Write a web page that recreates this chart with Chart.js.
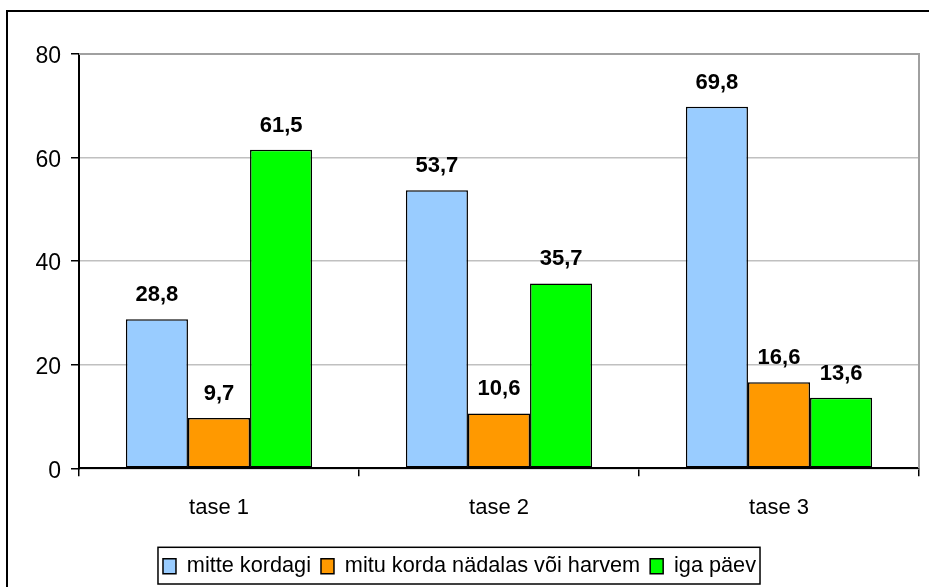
<!DOCTYPE html>
<html>
<head>
<meta charset="utf-8">
<script src="https://cdn.jsdelivr.net/npm/chart.js@4/dist/chart.umd.min.js"></script>
<style>
    body { margin: 0; background: #fff; overflow: hidden; }
    #wrap { position: relative; width: 929px; height: 587px; }
    #frame { position: absolute; left: 6px; top: 10px; width: 940px; height: 600px; border: 2px solid #000; box-sizing: border-box; pointer-events: none; }
</style>
</head>
<body>
<div id="wrap">
    <canvas id="chart" width="929" height="587"></canvas>
    <div id="frame"></div>
</div>
<script>
// ============================================================================
// DATA
// ============================================================================
const kategooriad = ["tase 1", "tase 2", "tase 3"];
const mitteKordagi = [28.8, 53.7, 69.8];
const mituKorda = [9.7, 10.6, 16.6];
const igaPaev = [61.5, 35.7, 13.6];
const yTicks = [0, 20, 40, 60, 80];

const FONT = 'Arial, "Liberation Sans", sans-serif';

// väärtused tulpade kohale
const vaartusedPlugin = {
    id: "vaartused",
    afterDatasetsDraw(chart) {
        const ctx = chart.ctx;
        ctx.save();
        ctx.font = "bold 22px " + FONT;
        ctx.fillStyle = "#000";
        ctx.textAlign = "center";
        ctx.textBaseline = "alphabetic";
        chart.data.datasets.forEach((ds, i) => {
            chart.getDatasetMeta(i).data.forEach((bar, j) => {
                ctx.fillText(ds.data[j].toFixed(1).replace(".", ","), bar.x, bar.y - 18);
            });
        });
        ctx.restore();
    }
};

// hall raam ülal ja paremal + legendi kast
const raamPlugin = {
    id: "raam",
    beforeDatasetsDraw(chart) {
        const a = chart.chartArea;
        const ctx = chart.ctx;
        ctx.save();
        ctx.strokeStyle = "#a0a0a0";
        ctx.lineWidth = 2;
        ctx.beginPath();
        ctx.moveTo(a.left, a.top);
        ctx.lineTo(a.right, a.top);
        ctx.lineTo(a.right, a.bottom);
        ctx.stroke();
        ctx.restore();
    },
    afterDraw(chart) {
        const boxes = chart.legend.legendHitBoxes;
        if (!boxes || !boxes.length) return;
        const ctx = chart.ctx;
        const x1 = boxes[0].left - 5;
        const last = boxes[boxes.length - 1];
        const x2 = last.left + last.width + 4;
        const y1 = boxes[0].top - 8;
        const y2 = boxes[0].top + boxes[0].height + 7;
        ctx.save();
        ctx.strokeStyle = "#000";
        ctx.lineWidth = 1.5;
        ctx.strokeRect(x1, y1, x2 - x1, y2 - y1);
        ctx.restore();
    }
};

const dataset = (label, data, color) => ({
    label: label,
    data: data,
    backgroundColor: color,
    borderColor: "#000",
    borderWidth: 1.5,
    borderSkipped: false,
    categoryPercentage: 0.665,
    barPercentage: 1.0
});

new Chart(document.getElementById("chart").getContext("2d"), {
    type: "bar",
    data: {
        labels: kategooriad,
        datasets: [
            dataset("mitte kordagi", mitteKordagi, "#99ccff"),
            dataset("mitu korda nädalas või harvem", mituKorda, "#ff9900"),
            dataset("iga päev", igaPaev, "#00ff00")
        ]
    },
    options: {
        responsive: false,
        animation: false,
        layout: { padding: { left: 0, top: 54, right: 10, bottom: 0 } },
        plugins: {
            tooltip: { enabled: false },
            legend: {
                position: "bottom",
                labels: {
                    color: "#000",
                    font: { family: FONT, size: 21.7 },
                    boxWidth: 13,
                    boxHeight: 15,
                    padding: 10,
                    generateLabels(chart) {
                        return chart.data.datasets.map((ds, i) => ({
                            text: ds.label,
                            fillStyle: ds.backgroundColor,
                            strokeStyle: "#000",
                            lineWidth: 1.5,
                            fontColor: "#000",
                            datasetIndex: i
                        }));
                    }
                }
            }
        },
        scales: {
            x: {
                grid: { offset: true, drawOnChartArea: false, color: "#000", tickLength: 8, lineWidth: 1.5 },
                border: { color: "#000", width: 2 },
                ticks: { color: "#000", font: { family: FONT, size: 22 }, padding: 18 },
                afterFit(scale) { scale.height = 77; }
            },
            y: {
                min: 0,
                max: 80,
                afterBuildTicks(scale) { scale.ticks = yTicks.map(v => ({ value: v })); },
                grid: { color: "#c0c0c0", tickColor: "#000", tickLength: 8, lineWidth: 1.5 },
                border: { color: "#000", width: 2 },
                ticks: { color: "#000", font: { family: FONT, size: 23 }, padding: 10, labelOffset: 3 },
                afterFit(scale) { scale.width = 79; }
            }
        }
    },
    plugins: [vaartusedPlugin, raamPlugin]
});
</script>
</body>
</html>
